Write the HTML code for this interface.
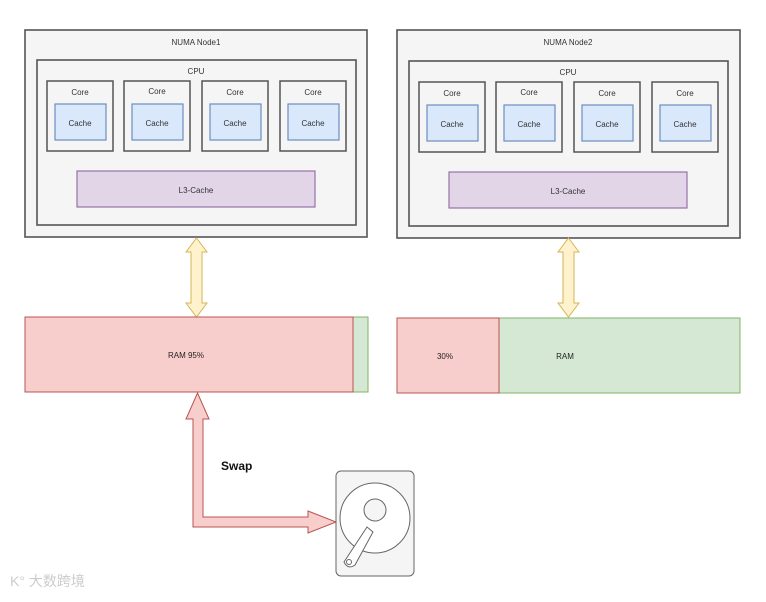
<!DOCTYPE html>
<html><head><meta charset="utf-8"><style>
body{margin:0;background:#fff;}
svg text{font-family:"Comic Sans MS","Liberation Sans",sans-serif;}
</style></head><body>
<svg width="766" height="597" viewBox="0 0 766 597" xmlns="http://www.w3.org/2000/svg">
<g stroke="#555" stroke-width="1.6" fill="#f5f5f5">
<rect x="25" y="30" width="342" height="207"/>
<rect x="37" y="60" width="319" height="165"/>
<rect x="397" y="30" width="343" height="208"/>
<rect x="409" y="61" width="319" height="165"/>
</g>
<g font-size="8" fill="#333" text-anchor="middle">
<text x="196" y="45">NUMA Node1</text><text x="196" y="74">CPU</text>
<text x="568" y="45">NUMA Node2</text><text x="568" y="75">CPU</text>
</g>
<g id="cores">
<g stroke="#555" stroke-width="1.5" fill="#f5f5f5">
<rect x="47" y="81" width="66" height="70"/><rect x="124" y="81" width="66" height="70"/>
<rect x="202" y="81" width="66" height="70"/><rect x="280" y="81" width="66" height="70"/>
</g>
<g stroke="#6c8ebf" stroke-width="1.2" fill="#dae8fc">
<rect x="55" y="104" width="51" height="36"/><rect x="132" y="104" width="51" height="36"/>
<rect x="210" y="104" width="51" height="36"/><rect x="288" y="104" width="51" height="36"/>
</g>
<g font-size="8" fill="#333" text-anchor="middle">
<text x="80" y="95">Core</text><text x="157" y="94">Core</text><text x="235" y="95">Core</text><text x="313" y="95">Core</text>
<text x="80" y="126">Cache</text><text x="157" y="126">Cache</text><text x="235" y="126">Cache</text><text x="313" y="126">Cache</text>
</g>
<rect x="77" y="171" width="238" height="36" fill="#e1d5e7" stroke="#9673a6" stroke-width="1.2"/>
<text x="196" y="193" font-size="8" fill="#333" text-anchor="middle">L3-Cache</text>
</g>
<use href="#cores" x="372" y="1"/>
<g stroke="#d6b656" stroke-width="1" fill="#fff2cc">
<path d="M196.5 238 L207 252 L202 252 L202 303 L207 303 L196.5 317 L186 303 L191 303 L191 252 L186 252 Z"/>
<path d="M568.5 238 L579 252 L574 252 L574 303 L579 303 L568.5 317 L558 303 L563 303 L563 252 L558 252 Z"/>
</g>
<rect x="353" y="317" width="15" height="75" fill="#d5e8d4" stroke="#82b366"/>
<rect x="25" y="317" width="328" height="75" fill="#f8cecc" stroke="#b85450"/>
<rect x="499" y="318" width="241" height="75" fill="#d5e8d4" stroke="#82b366"/>
<rect x="397" y="318" width="102" height="75" fill="#f8cecc" stroke="#b85450"/>
<g font-size="8" fill="#222" text-anchor="middle">
<text x="186" y="358">RAM 95%</text><text x="445" y="359">30%</text><text x="565" y="359">RAM</text>
</g>
<path d="M197.5 393 L209 419 L203 419 L203 517 L308 517 L308 511 L336 522 L308 533 L308 527 L193 527 L193 419 L186 419 Z" fill="#f8cecc" stroke="#b85450" stroke-width="1"/>
<text x="221" y="470" font-size="12" font-weight="bold" fill="#111">Swap</text>
<rect x="336" y="471" width="78" height="105" rx="5" fill="#f5f5f5" stroke="#666"/>
<circle cx="375" cy="518" r="35" fill="#fff" stroke="#666"/>
<circle cx="375" cy="510" r="11" fill="#f5f5f5" stroke="#666"/>
<path d="M367 527 L373 532 L355 565 Q348 570 344 562 Z" fill="#fff" stroke="#666"/>
<circle cx="349" cy="562" r="2.5" fill="none" stroke="#666"/>
<text x="10" y="586" font-size="14" fill="#ccc" font-family="'Liberation Sans','Noto Sans CJK SC',sans-serif">K° 大数跨境</text>
</svg>
</body></html>
